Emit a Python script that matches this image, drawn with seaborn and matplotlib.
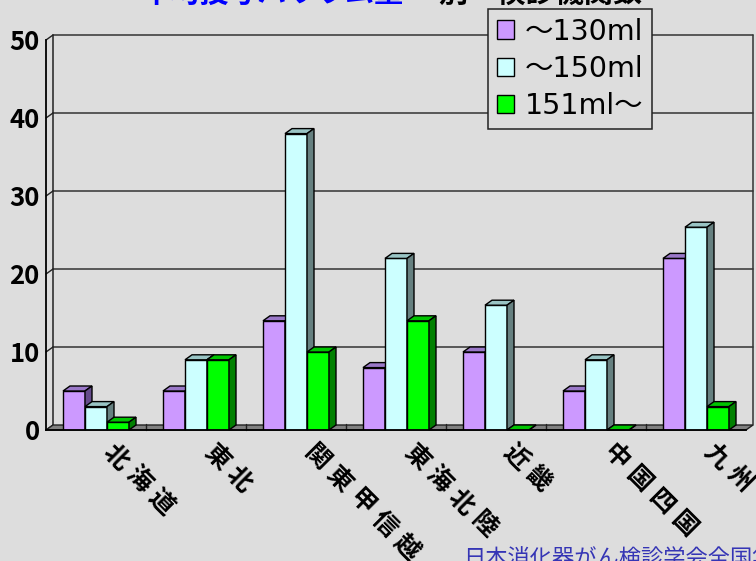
import numpy as np
import pandas as pd
import matplotlib
matplotlib.use("Agg")
import matplotlib.pyplot as plt
import matplotlib.transforms as mtransforms
from matplotlib.patches import Polygon, Patch
import seaborn as sns

# ---- data -------------------------------------------------------------
regions = ["北海道", "東北", "関東甲信越", "東海北陸", "近畿", "中国四国", "九州"]
series = ["～130ml", "～150ml", "151ml～"]
vol_130 = [5, 5, 14, 8, 10, 5, 22]
vol_150 = [3, 9, 38, 22, 16, 9, 26]
vol_151 = [1, 9, 10, 14, 0, 0, 3]
y_ticks = [0, 10, 20, 30, 40, 50]

title_blue = "平均投与バリウム量"
title_black = "別・検診機関数"
source_note = "日本消化器がん検診学会全国集計"

# ---- style ------------------------------------------------------------
front_colors = ["#CC99FF", "#CCFFFF", "#00FF00"]
top_colors = ["#9A78C8", "#99C4C4", "#00C400"]
side_colors = ["#664C8C", "#668080", "#008000"]
bg = "#DDDDDD"
floor_color = "#808080"

sns.set_theme(style="white")
plt.rcParams["font.family"] = ["Noto Sans CJK JP", "DejaVu Sans"]
plt.rcParams["text.color"] = "black"

df = pd.DataFrame({
    "region": regions * 3,
    "series": [s for s in series for _ in regions],
    "count": vol_130 + vol_150 + vol_151,
})

W, H = 756, 561
fig = plt.figure(figsize=(W / 100, H / 100), dpi=100, facecolor=bg)
ax = fig.add_axes([46 / W, 1 - 430 / H, 700 / W, 390 / H])
ax.set_facecolor("none")

sns.barplot(data=df, x="region", y="count", hue="series", order=regions,
            hue_order=series, palette=front_colors, width=0.66, saturation=1,
            edgecolor="black", linewidth=1.0, legend=False, ax=ax)

# bars with their series index, taken before any extra patches are added
bar_list = []
for hue_idx, cont in enumerate(ax.containers):
    for p in cont.patches:
        bar_list.append((p, hue_idx))
bar_list.sort(key=lambda item: item[0].get_x())

ax.set_xlim(-0.5, len(regions) - 0.5)
ax.set_ylim(y_ticks[0], y_ticks[-1])

# depth offset of the pseudo-3D box, converted to data units
o = ax.transData.transform((0, 0))
dx, dy = ax.transData.inverted().transform(o + np.array([7.0, 5.0]))

x_lo, x_hi = ax.get_xlim()
y_top = y_ticks[-1]

# back wall gridlines, left wall diagonals and wall edges
for t in y_ticks[1:]:
    ax.plot([x_lo + dx, x_hi + dx], [t + dy, t + dy], color="#333333",
            lw=1.1, zorder=1, clip_on=False)
for t in y_ticks:
    ax.plot([x_lo, x_lo + dx], [t, t + dy], color="#222222", lw=1.0,
            zorder=1, clip_on=False)
ax.plot([x_lo + dx, x_lo + dx], [dy, y_top + dy], color="#222222", lw=1.1,
        zorder=1, clip_on=False)
ax.plot([x_hi + dx, x_hi + dx], [dy, y_top + dy], color="#333333", lw=1.1,
        zorder=1, clip_on=False)

# floor
ax.add_patch(Polygon([(x_lo, 0), (x_hi, 0), (x_hi + dx, dy), (x_lo + dx, dy)],
                     closed=True, facecolor=floor_color, edgecolor="#222222",
                     lw=1.0, zorder=2, clip_on=False))
for b in np.arange(x_lo + 1, x_hi, 1.0):
    ax.plot([b, b], [0, dy * 1.3], color="#222222", lw=1.0, zorder=2.5,
            clip_on=False)

# give each bar a top and a side face, drawn left to right
for rank, (p, hue_idx) in enumerate(bar_list):
    x0 = p.get_x()
    x1 = x0 + p.get_width()
    h = p.get_height()
    z = 3 + rank * 0.1
    p.set_zorder(z)
    ax.add_patch(Polygon([(x0, h), (x1, h), (x1 + dx, h + dy), (x0 + dx, h + dy)],
                         closed=True, facecolor=top_colors[hue_idx],
                         edgecolor="black", lw=1.0, zorder=z + 0.01, clip_on=False))
    ax.add_patch(Polygon([(x1, 0), (x1, h), (x1 + dx, h + dy), (x1 + dx, dy)],
                         closed=True, facecolor=side_colors[hue_idx],
                         edgecolor="black", lw=1.0, zorder=z + 0.01, clip_on=False))

# axes frame
for side in ("top", "right"):
    ax.spines[side].set_visible(False)
for side in ("left", "bottom"):
    ax.spines[side].set_color("black")
    ax.spines[side].set_linewidth(1.3)
    ax.spines[side].set_zorder(10)

ax.set_xlabel("")
ax.set_ylabel("")
ax.set_xticks([])
ax.set_yticks(y_ticks)
ax.set_yticklabels([str(t) for t in y_ticks], fontsize=18.5, fontweight="bold",
                   color="black")
ax.tick_params(axis="y", length=0, pad=4.5)

# diagonal category labels, one glyph at a time
for i, name in enumerate(regions):
    for k, ch in enumerate(name):
        tr = mtransforms.offset_copy(ax.transData, fig=fig,
                                     x=20 + 22.5 * k, y=-(27 + 22.5 * k),
                                     units="dots")
        ax.text(i, 0, ch, transform=tr, rotation=-45, ha="center",
                va="center", fontsize=18, fontweight="bold", color="black",
                clip_on=False)

# legend
handles = [Patch(facecolor=c, edgecolor="black", lw=1.0) for c in front_colors]
leg = fig.legend(handles, series, loc="upper left",
                 bbox_to_anchor=(488 / W, 1 - 9 / H), frameon=True,
                 fancybox=False, facecolor=bg, edgecolor="#222222",
                 framealpha=1,
                 prop=dict(family=["DejaVu Sans", "Noto Sans CJK JP"], size=20.5),
                 handlelength=0.6, handleheight=0.6, handletextpad=0.4,
                 labelspacing=0.33, borderpad=0.3, borderaxespad=0)
for txt in leg.get_texts():
    txt.set_color("black")
leg.get_frame().set_linewidth(1.1)

# title (runs off the top edge) and source note
fig.text(142 / W, 1 - 2 / H, title_blue, color="#0000FF", fontsize=21,
         fontweight="bold", ha="left", va="baseline")
fig.text(438 / W, 1 - 2 / H, title_black, color="black", fontsize=21,
         fontweight="bold", ha="left", va="baseline")
fig.text(463 / W, 1 - 566 / H, source_note, color="#3535B5", fontsize=16,
         ha="left", va="baseline")

fig.savefig("out.png", dpi=100, facecolor=bg)
